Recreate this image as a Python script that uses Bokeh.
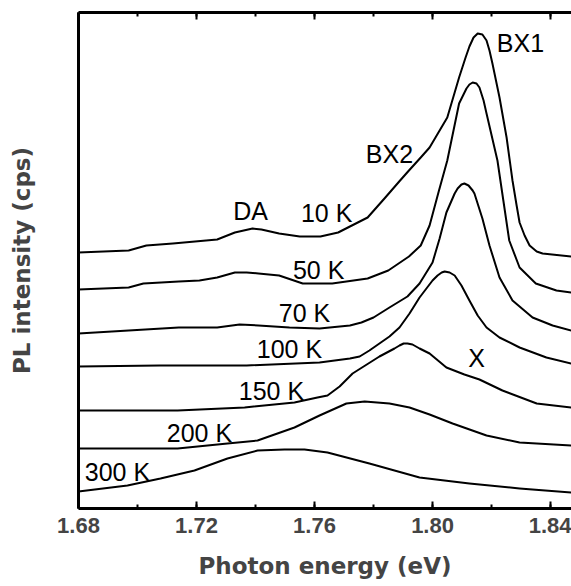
from bokeh.plotting import figure
from bokeh.models import (LinearAxis, SingleIntervalTicker, FixedTicker, Range1d,
                          NumeralTickFormatter, ColumnDataSource, LabelSet,
                          CustomJSTickFormatter)
from bokeh.core.properties import value
from bokeh.embed import file_html
from bokeh.resources import INLINE

# ---------------- data ----------------
# photon energy (eV) and stacked PL intensity (arb. units, offset curves)
e_10K = [1.680, 1.697, 1.703, 1.712, 1.727, 1.733, 1.739, 1.742, 1.748, 1.755, 1.762, 1.768,
         1.778, 1.784, 1.789, 1.792, 1.796, 1.799, 1.805, 1.809, 1.8112, 1.8125, 1.8139,
         1.8153, 1.8169, 1.8183, 1.8193, 1.8203, 1.8227, 1.8251, 1.8271, 1.8285, 1.8295,
         1.8312, 1.8329, 1.8353, 1.8373, 1.847]
pl_10K = [256, 258, 263, 265, 269, 276, 280, 279, 275, 272, 272, 276,
          291, 311, 328, 338, 351, 361, 391, 431, 451, 462, 471,
          475, 474, 468, 458, 445, 411, 371, 328, 303, 286,
          273, 263, 257, 255, 252]

e_50K = [1.680, 1.697, 1.702, 1.714, 1.721, 1.727, 1.733, 1.737, 1.741, 1.748, 1.756, 1.766,
         1.778, 1.785, 1.792, 1.796, 1.799, 1.802, 1.805, 1.809, 1.8115, 1.8125, 1.8136,
         1.8149, 1.8159, 1.8173, 1.8183, 1.822, 1.824, 1.826, 1.8295, 1.835, 1.842, 1.847]
pl_50K = [219, 221, 225, 227, 228, 231, 236, 236, 235, 233, 225, 225,
          230, 238, 252, 263, 283, 316, 348, 405, 420, 424, 426,
          425, 421, 408, 395, 348, 308, 268, 241, 225, 218, 216]

e_70K = [1.680, 1.697, 1.714, 1.727, 1.7346, 1.741, 1.7515, 1.7617, 1.772, 1.7759, 1.780, 1.7854,
         1.7915, 1.7956, 1.800, 1.8024, 1.8047, 1.8075, 1.8085, 1.8098, 1.8108, 1.8122, 1.8136,
         1.8142, 1.8169, 1.8193, 1.8227, 1.8271, 1.8339, 1.8407, 1.847]
pl_70K = [175, 178, 181, 181, 184, 183, 181, 180, 183, 186, 191, 201,
          212, 225, 246, 270, 296, 315, 320, 324, 325, 323, 318,
          315, 290, 263, 231, 208, 191, 183, 178]

e_100K = [1.680, 1.7075, 1.737, 1.7617, 1.772, 1.7753, 1.7786, 1.782, 1.7854, 1.7888, 1.7922,
          1.7956, 1.800, 1.8017, 1.8031, 1.8041, 1.8058, 1.8075, 1.8098, 1.8125, 1.8153,
          1.8183, 1.8227, 1.8295, 1.8386, 1.847]
pl_100K = [142, 143, 143, 146, 150, 152, 158, 165, 172, 181, 195,
           211, 228, 233, 236, 237, 236, 233, 223, 208, 193,
           181, 171, 161, 151, 145]

e_150K = [1.680, 1.7136, 1.7363, 1.7532, 1.761, 1.7644, 1.7685, 1.7729, 1.782, 1.7871, 1.7888,
          1.7902, 1.7915, 1.7932, 1.7956, 1.799, 1.8047, 1.8108, 1.8159, 1.8237, 1.8353, 1.847]
pl_150K = [98, 98, 101, 106, 111, 113, 122, 135, 152, 160, 163,
           165, 165, 164, 160, 155, 141, 134, 129, 118, 105, 101]

e_200K = [1.680, 1.7136, 1.7305, 1.7407, 1.7532, 1.7617, 1.7708, 1.777, 1.7854, 1.7922, 1.799,
          1.8068, 1.8183, 1.8295, 1.847]
pl_200K = [60, 60, 65, 68, 81, 93, 105, 107, 105, 101, 94,
           85, 73, 66, 63]

e_300K = [1.680, 1.6966, 1.7078, 1.7193, 1.7305, 1.7407, 1.7498, 1.7566, 1.7644, 1.7786, 1.7956,
          1.8125, 1.8295, 1.847]
pl_300K = [17, 23, 30, 38, 50, 58, 59, 59, 56, 45, 31,
           25, 20, 16]

# annotations: text and where it sits (energy, intensity)
note_text = ["BX1", "BX2", "DA", "10 K", "50 K", "70 K", "100 K", "150 K", "200 K", "300 K", "X"]
note_e = [1.8298, 1.7854, 1.7383, 1.7641, 1.7614, 1.7566, 1.7515, 1.7454, 1.7210, 1.6932, 1.8149]
note_i = [466, 355, 298, 296, 239, 196, 160, 118, 76, 37, 151]

x_title = "Photon energy (eV)"
y_title = "PL intensity (cps)"
x_ticks_interval = 0.04

# ---------------- figure ----------------
p = figure(width=571, height=586, output_backend="svg", toolbar_location=None,
           x_range=Range1d(1.68, 1.8471), y_range=Range1d(0, 496),
           min_border_left=78, min_border_right=0, min_border_top=12, min_border_bottom=78,
           background_fill_color="white", border_fill_color="white")
p.outline_line_color = None
p.grid.visible = False

curves = [(e_10K, pl_10K), (e_50K, pl_50K), (e_70K, pl_70K), (e_100K, pl_100K),
          (e_150K, pl_150K), (e_200K, pl_200K), (e_300K, pl_300K)]
for ex, iy in curves:
    p.line(ex, iy, line_color="black", line_width=2, line_join="round")

src = ColumnDataSource(dict(x=note_e, y=note_i, t=note_text))
p.add_layout(LabelSet(x="x", y="y", text="t", source=src, text_align="center",
                      text_baseline="middle", text_font=value("Liberation Sans"),
                      text_font_size=value("25px"), text_color="black"))

ticker = SingleIntervalTicker(interval=x_ticks_interval, num_minor_ticks=2)

xa = p.xaxis[0]
xa.ticker = ticker
xa.formatter = NumeralTickFormatter(format="0.00")
xa.axis_line_width = 3
xa.major_tick_in = 7
xa.major_tick_out = 0
xa.minor_tick_in = 4
xa.minor_tick_out = 0
xa.major_tick_line_width = 2
xa.minor_tick_line_width = 2
xa.major_label_text_font = "Liberation Sans"
xa.major_label_text_font_style = "bold"
xa.major_label_text_font_size = "22px"
xa.major_label_standoff = 9
xa.axis_label = x_title
xa.axis_label_text_font = "DejaVu Sans"
xa.axis_label_text_font_style = "bold"
xa.axis_label_text_font_size = "23px"
xa.axis_label_standoff = 17

ya = p.yaxis[0]
ya.ticker = FixedTicker(ticks=[])
ya.axis_line_width = 3
ya.major_tick_line_color = None
ya.minor_tick_line_color = None
ya.major_label_standoff = 0
ya.axis_label = y_title
ya.axis_label_text_font = "DejaVu Sans"
ya.axis_label_text_font_style = "bold"
ya.axis_label_text_font_size = "23px"
ya.axis_label_standoff = 44

top = LinearAxis(ticker=SingleIntervalTicker(interval=x_ticks_interval, num_minor_ticks=2),
                 formatter=CustomJSTickFormatter(code="return ''"))
top.axis_line_width = 3
top.major_tick_in = 7
top.major_tick_out = 0
top.minor_tick_in = 4
top.minor_tick_out = 0
top.major_tick_line_width = 2
top.minor_tick_line_width = 2
top.major_label_standoff = 0
p.add_layout(top, "above")

open("out.html", "w").write(file_html(p, INLINE))
